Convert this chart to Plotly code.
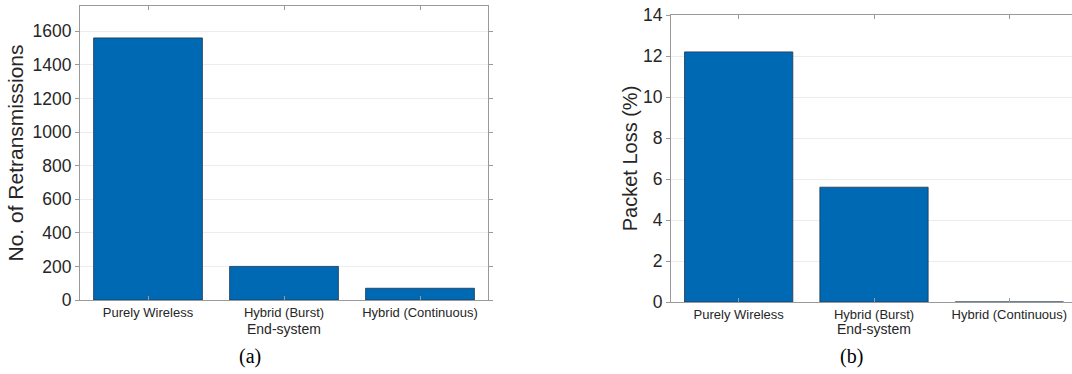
import plotly.graph_objects as go

# End-system categories shared by both panels
categories = ["Purely Wireless", "Hybrid (Burst)", "Hybrid (Continuous)"]

# (a) number of retransmissions per end-system
retransmissions = [1560, 200, 70]

# (b) packet loss percentage per end-system
packet_loss = [12.2, 5.6, 0.0]

y_ticks_a = [0, 200, 400, 600, 800, 1000, 1200, 1400, 1600]
y_ticks_b = [0, 2, 4, 6, 8, 10, 12, 14]

W, H = 1072, 374
BAR_COLOR = "#0069b4"
AXIS_COLOR = "#9a9a9a"
GRID_COLOR = "#ececec"
TEXT_COLOR = "#262626"
SANS = "Liberation Sans, Arial, Helvetica, sans-serif"
SERIF = "Liberation Serif, Times New Roman, serif"


def px_x(p):
    return p / W


def px_y(p):
    return 1 - p / H


fig = go.Figure()
fig.add_trace(go.Bar(
    x=categories, y=retransmissions, xaxis="x", yaxis="y",
    marker=dict(color=BAR_COLOR, line=dict(color="#1d3550", width=0.8)),
    width=0.8, showlegend=False,
))
fig.add_trace(go.Bar(
    x=categories, y=packet_loss, xaxis="x2", yaxis="y2",
    marker=dict(color=BAR_COLOR, line=dict(color="#1d3550", width=0.8)),
    width=0.8, showlegend=False,
))

xcommon = dict(
    type="category", showline=True, linecolor=AXIS_COLOR, linewidth=1,
    ticks="inside", ticklen=4, tickcolor=AXIS_COLOR, showgrid=False,
    tickfont=dict(family=SANS, size=13, color=TEXT_COLOR),
    fixedrange=True, automargin=False,
)
ycommon = dict(
    showline=True, linecolor=AXIS_COLOR, linewidth=1,
    ticks="outside", ticklen=4, tickcolor=AXIS_COLOR,
    showgrid=True, gridcolor=GRID_COLOR, gridwidth=1, zeroline=False,
    tickfont=dict(family=SANS, size=17.5, color=TEXT_COLOR),
    fixedrange=True, automargin=False,
)

fig.update_layout(
    width=W, height=H,
    margin=dict(l=0, r=0, t=0, b=0, autoexpand=False),
    paper_bgcolor="white", plot_bgcolor="white",
    bargap=0.2,
    xaxis=dict(xcommon, domain=[px_x(80), px_x(488)], range=[-0.5, 2.5],
               anchor="y", mirror="ticks"),
    yaxis=dict(ycommon, domain=[px_y(300), px_y(6)], range=[0, 1750],
               tickvals=y_ticks_a, anchor="x", mirror="ticks",
               title=dict(text="No. of Retransmissions",
                          font=dict(family=SANS, size=21, color=TEXT_COLOR),
                          standoff=3)),
    xaxis2=dict(xcommon, domain=[px_x(671), 1.0], range=[-0.5, 2.463],
                anchor="y2", mirror="ticks"),
    yaxis2=dict(ycommon, domain=[px_y(302), px_y(15)], range=[0, 14],
                tickvals=y_ticks_b, anchor="x2", mirror=False,
                title=dict(text="Packet Loss (%)",
                           font=dict(family=SANS, size=20, color=TEXT_COLOR),
                           standoff=0)),
)

# x-axis titles under the middle category of each panel
for xc in (284, 874):
    fig.add_annotation(text="End-system", xref="paper", yref="paper",
                       x=px_x(xc), y=px_y(329), showarrow=False,
                       xanchor="center", yanchor="middle",
                       font=dict(family=SANS, size=14, color=TEXT_COLOR))

# panel captions
for xc, cap in [(250, "(a)"), (851, "(b)")]:
    fig.add_annotation(text=cap, xref="paper", yref="paper",
                       x=px_x(xc), y=px_y(356), showarrow=False,
                       xanchor="center", yanchor="middle",
                       font=dict(family=SERIF, size=20, color="black"))

fig.write_html("out.html", config={"displayModeBar": False})
